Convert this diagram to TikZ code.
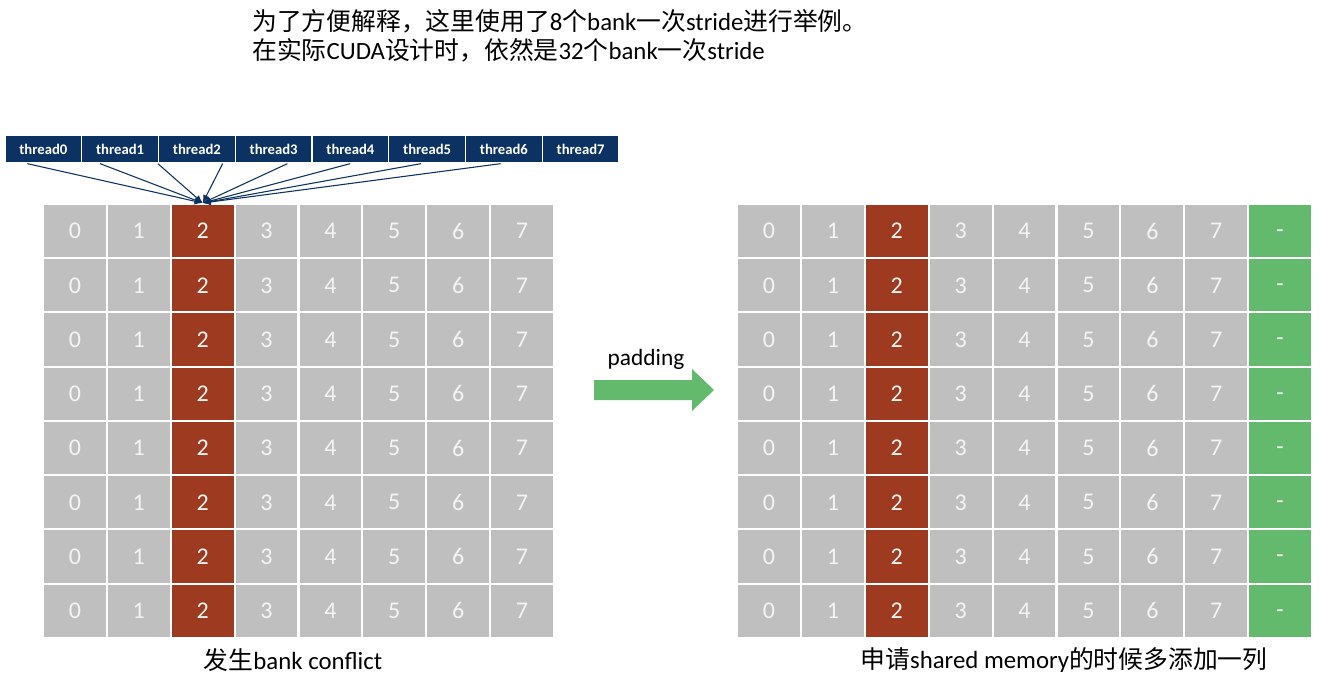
\documentclass[tikz,border=0pt]{standalone}
\usepackage{fontspec}
\setmainfont{Carlito}
\newfontfamily\cjk{Noto Sans CJK SC}
\usetikzlibrary{arrows.meta,positioning,calc}
\definecolor{navy}{HTML}{0C3163}
\definecolor{cellg}{HTML}{BFBFBF}
\definecolor{hot}{HTML}{9E3A1F}
\definecolor{padg}{HTML}{63B96C}
\definecolor{digit}{HTML}{F4F4F4}
\tikzset{
  cell/.style={draw=white,line width=1.5pt,fill=cellg,minimum width=47.9pt,minimum height=40.7pt,inner sep=0pt,text=digit,font=\fontsize{18}{18}\selectfont},
  hcell/.style={cell,fill=hot},
  pcell/.style={cell,fill=padg,text height=0.65em,text depth=0pt},
  thr/.style={draw=white,line width=1pt,fill=navy,text=white,minimum width=57.6pt,minimum height=21pt,inner sep=0pt,font=\fontsize{11}{11}\selectfont\bfseries},
  ptr/.style={-{Latex[length=6pt,width=5pt]},draw=navy,line width=0.8pt},
  captxt/.style={font=\fontsize{18.6}{22}\selectfont,text=black,inner sep=0pt},
}

\begin{document}
\begin{tikzpicture}[x=0.75pt,y=-0.75pt]
\useasboundingbox (0,0) rectangle (1321,681);

% note on top
\node[captxt,anchor=west] (note1) at (252,21) {{\cjk 为了方便解释，这里使用了}8{\cjk 个}bank{\cjk 一次}stride{\cjk 进行举例。}};
\node[captxt,anchor=west] (note2) at (252,50) {{\cjk 在实际}CUDA{\cjk 设计时，依然是}32{\cjk 个}bank{\cjk 一次}stride};

% left: bank conflict
\foreach \r in {0,...,7}{
  \foreach \c in {0,...,7}{
    \ifnum\c=2
      \node[hcell] (l-\r-\c) at ({43+63.875*(\c+0.5)},{204+54.25*(\r+0.5)}) {\c};
    \else
      \node[cell] (l-\r-\c) at ({43+63.875*(\c+0.5)},{204+54.25*(\r+0.5)}) {\c};
    \fi
  }
}

% threads
\foreach \i in {0,...,7}
  \node[thr] (t\i) at ({5+76.75*(\i+0.5)},149) {thread\i};

\foreach \i/\dx in {0/-16,1/-20,2/-39,3/-51,4/-63,5/-77,6/-83,7/-80}
  \draw[ptr] ([xshift=\dx*0.75pt]t\i.south) -- (l-0-2.north);

% padding arrow
\fill[padg] (594,380) -- (692,380) -- (692,369) -- (714,390) -- (692,411) -- (692,400) -- (594,400) -- cycle;
\node[font=\fontsize{17.5}{17.5}\selectfont,inner sep=0pt] (pad) at (646,359) {padding};

% right: with one padded column
\foreach \r in {0,...,7}{
  \foreach \c in {0,...,7}{
    \ifnum\c=2
      \node[hcell] (r-\r-\c) at ({737+63.9*(\c+0.5)},{204+54.25*(\r+0.5)}) {\c};
    \else
      \node[cell] (r-\r-\c) at ({737+63.9*(\c+0.5)},{204+54.25*(\r+0.5)}) {\c};
    \fi
  }
  \node[pcell] (r-\r-8) at ({737+63.9*8.5},{204+54.25*(\r+0.5)}) {\raisebox{-0.08em}{-}};
}

% captions
\node[captxt] (capl) at (293,660) {{\cjk 发生}bank conflict};
\node[captxt] (capr) at (1064,660) {{\cjk 申请}shared memory{\cjk 的时候多添加一列}};
\end{tikzpicture}
\end{document}
